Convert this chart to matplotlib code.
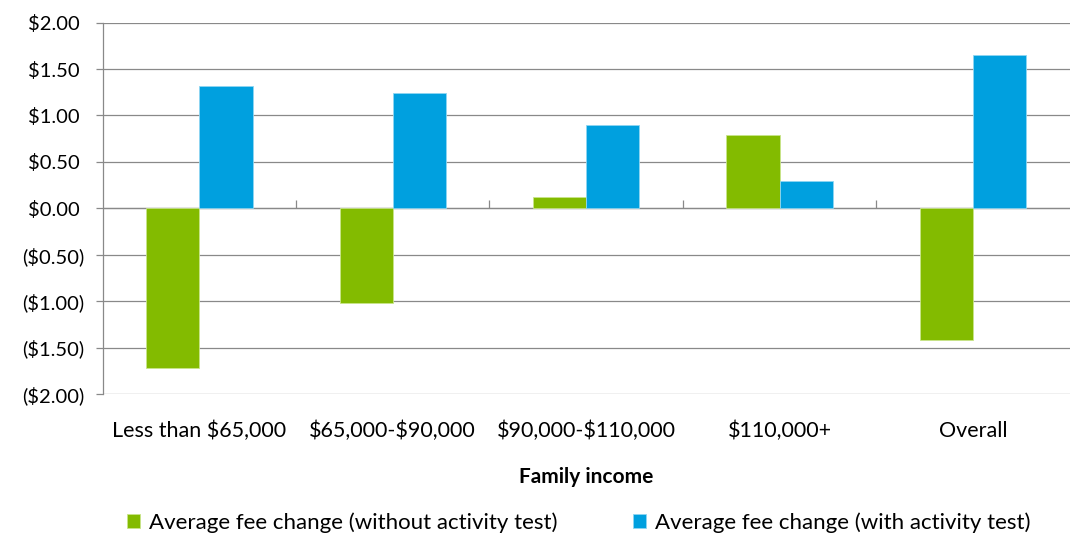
import numpy as np
import matplotlib.pyplot as plt

plt.rcParams['font.family'] = ['Lato', 'DejaVu Sans']

categories = ['Less than \\$65,000', '\\$65,000-\\$90,000', '\\$90,000-\\$110,000',
              '\\$110,000+', 'Overall']
without_test = [-1.72, -1.02, 0.12, 0.79, -1.42]
with_test = [1.32, 1.24, 0.90, 0.29, 1.65]
series_names = ['Average fee change (without activity test)',
                'Average fee change (with activity test)']
green = '#83BB00'
blue = '#00A0DF'
grid_col = '#898989'


def money(v, pos=None):
    if v < 0:
        return '(\\${:.2f})'.format(-v)
    return '\\${:.2f} '.format(v)


fig = plt.figure(figsize=(10.72, 5.37), dpi=100)
ax = fig.add_axes([0.0958, 0.266, 0.902, 0.692])

x = np.arange(len(categories))
w = 0.275
ax.bar(x - w / 2, without_test, w, color=green, edgecolor='#c9e58a', linewidth=0.6,
       label=series_names[0], zorder=3)
ax.bar(x + w / 2, with_test, w, color=blue, edgecolor='#8fd6f2', linewidth=0.6,
       label=series_names[1], zorder=3)

ax.set_xlim(-0.5, len(categories) - 0.5)
ax.set_ylim(-2, 2)
yt = np.arange(-2, 2.01, 0.5)
ax.set_yticks(yt)
ax.yaxis.set_major_formatter(plt.FuncFormatter(money))
ax.yaxis.grid(True, color=grid_col, linewidth=0.9, zorder=1)
ax.axhline(0, color=grid_col, linewidth=0.9, zorder=2)

# small category separators standing on the zero line
bounds = np.arange(0.5, len(categories) - 1, 1.0)
ax.vlines(bounds, 0, 0.095, color=grid_col, linewidth=0.9, zorder=2)

for s in ['top', 'right', 'bottom']:
    ax.spines[s].set_visible(False)
ax.spines['left'].set_color(grid_col)
ax.spines['left'].set_linewidth(0.9)

ax.set_xticks(x)
ax.set_xticklabels(categories)
ax.tick_params(axis='x', length=0, pad=19, labelsize=15.5)
ax.tick_params(axis='y', length=5, color=grid_col, width=0.9, pad=8, labelsize=14.5)
ax.set_xlabel('Family income', fontsize=15, fontweight='bold', labelpad=19)

fig.legend(loc='lower center', bbox_to_anchor=(0.54, -0.03), ncol=2, frameon=False,
           fontsize=16, handlelength=0.6, handleheight=0.6, handletextpad=0.4,
           columnspacing=3.4)

fig.savefig('out.png', dpi=100)
